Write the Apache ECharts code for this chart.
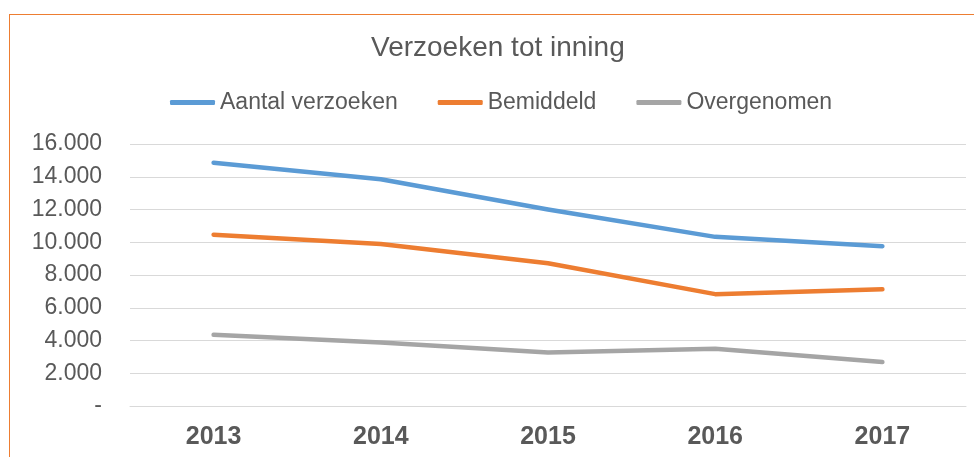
<!DOCTYPE html>
<html>
<head>
<meta charset="utf-8">
<script src="https://cdn.jsdelivr.net/npm/echarts@6/dist/echarts.min.js"></script>
<style>
  html, body { margin: 0; padding: 0; background: #fff; }
  #wrap { position: relative; width: 974px; height: 457px; overflow: hidden; }
  #frame {
    position: absolute; left: 9px; top: 14px; width: 980px; height: 460px;
    border-top: 1px solid #ED7D31; border-left: 1px solid #ED7D31;
    pointer-events: none;
  }
  #myChart { position: absolute; left: 0; top: 0; width: 974px; height: 457px; }
</style>
</head>
<body>
<div id="wrap">
  <div id="myChart"></div>
  <div id="frame"></div>
</div>
<script>
// data
var years = ["2013", "2014", "2015", "2016", "2017"];
var aantalVerzoeken = [14850, 13850, 12000, 10330, 9760];
var bemiddeld = [10460, 9890, 8720, 6830, 7130];
var overgenomen = [4350, 3880, 3270, 3490, 2690];

document.addEventListener("DOMContentLoaded", function () {
  var myChart = echarts.init(document.getElementById("myChart"));
  var font = "'Liberation Sans', Arial, sans-serif";

  function lineSeries(name, data, color) {
    return {
      name: name,
      type: "line",
      data: data,
      symbol: "none",
      color: color,
      lineStyle: { width: 4.5, color: color, cap: "round", join: "round" },
    };
  }

  var option = {
    backgroundColor: "#ffffff",
    animation: false,
    title: {
      text: "Verzoeken tot inning",
      left: 366,
      top: 29,
      textStyle: { fontFamily: font, fontSize: 28, fontWeight: "normal", color: "#595959" },
    },
    legend: {
      top: 86,
      left: 165,
      icon: "roundRect",
      itemWidth: 45,
      itemHeight: 5,
      itemGap: 40,
      textStyle: { fontFamily: font, fontSize: 23, color: "#595959" },
    },
    grid: { left: 130, right: 8, top: 144, bottom: 51 },
    xAxis: {
      type: "category",
      data: years,
      boundaryGap: true,
      axisLine: { lineStyle: { color: "#D9D9D9", width: 1 } },
      axisTick: { show: false },
      axisLabel: {
        margin: 19,
        fontFamily: font,
        fontSize: 25,
        fontWeight: "bold",
        color: "#595959",
      },
    },
    yAxis: {
      type: "value",
      min: 0,
      max: 16000,
      interval: 2000,
      axisLine: { show: false },
      axisTick: { show: false },
      splitLine: { lineStyle: { color: "#D9D9D9", width: 1 } },
      axisLabel: {
        margin: 28,
        fontFamily: font,
        fontSize: 23,
        color: "#595959",
        formatter: function (v) {
          if (v === 0) return "-";
          return (v / 1000).toFixed(0) + ".000";
        },
      },
    },
    series: [
      lineSeries("Aantal verzoeken", aantalVerzoeken, "#5B9BD5"),
      lineSeries("Bemiddeld", bemiddeld, "#ED7D31"),
      lineSeries("Overgenomen", overgenomen, "#A5A5A5"),
    ],
  };

  myChart.setOption(option);
});
</script>
</body>
</html>
